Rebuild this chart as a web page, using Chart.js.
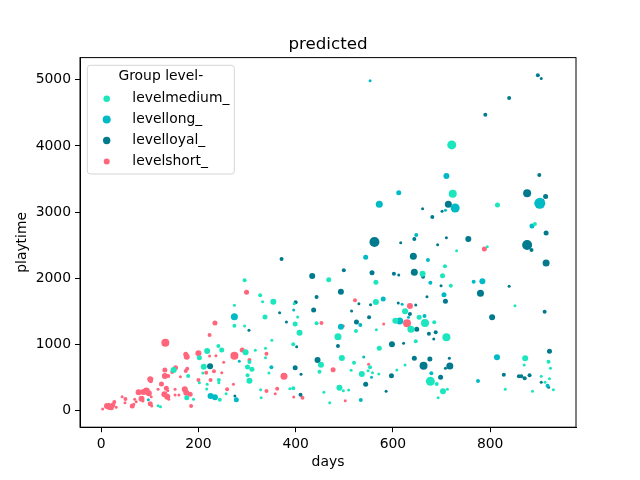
<!DOCTYPE html>
<html>
<head>
<meta charset="utf-8">
<script src="https://cdn.jsdelivr.net/npm/chart.js@4/dist/chart.umd.min.js"></script>
<style>html,body{margin:0;padding:0;background:#fff}</style>
</head>
<body>
<canvas id="chart" width="640" height="480"></canvas>
<script>
// [days, playtime, marker size]
const levelMedium = [
  [721,4016,4.5],[723,3279,4],[815,3108,2.5],[892,2820,2],[731,2416,1.5],[794,2477,1.5],[707,2180,2],
  [661,2069,3],[702,2038,2.5],[719,1887,2],[851,1584,1.5],[654,1408,2.5],[666,1322,4],[685,1333,2],
  [637,1227,3.5],[710,1106,4],[647,1045,2],[677,440,4.5],[690,399,2],[712,319,1.5],[703,289,3],
  [693,192,1.5],[831,319,1.5],[872,788,3],[870,687,1.5],[887,289,1.5],[920,737,2],[924,637,1.5],
  [905,516,1.5],[922,480,1.5],[913,425,1.5],[930,313,1.5],[468,1978,2.5],[565,1938,2.5],[295,1969,2],
  [327,1741,2],[332,1645,1.5],[354,1645,3],[397,1614,1.5],[565,1640,3],[274,1590,1.5],[337,1413,2.5],
  [399,1307,2.5],[404,1413,1.5],[408,1176,3],[443,1318,2],[295,1277,1.5],[351,1061,1.5],[395,1000,2],
  [297,879,3],[317,909,1.5],[338,940,1.5],[338,797,1.5],[305,732,2],[301,657,2.5],[310,621,2.5],
  [301,531,2],[305,449,3],[345,566,1.5],[328,313,1.5],[329,192,1.5],[388,328,1.5],[395,334,2],
  [452,691,3],[449,586,2],[458,274,1.5],[470,117,1.5],[490,344,3],[498,298,1.5],[509,309,1.5],
  [495,793,3],[487,1115,3.5],[524,1201,2],[520,722,2],[536,551,3],[514,607,1.5],[553,652,2],
  [549,601,1.5],[558,570,1.5],[571,551,1.5],[572,940,2.5],[566,1221,1.5],[608,611,1.5],[625,687,1.5],
  [605,1357,3],[625,1499,3],[274,1282,2],[241,974,2],[248,914,2.5],[218,899,3],[202,797,2.5],
  [211,661,3],[209,566,1.5],[242,460,2],[218,395,1.5],[217,324,1.5],[242,419,1.5],[257,253,1.5],
  [244,162,2],[202,419,1.5],[149,611,3],[179,520,2],[176,192,2.5],[190,168,1.5],[117,71,1.5],[122,57,1.5]
];
const levelLong = [
  [553,4988,1.5],[710,3546,3],[728,3062,4.5],[708,3027,1.5],[902,3133,5.5],[886,2790,2.5],[648,2654,2],
  [672,2276,2],[677,1932,2],[766,1947,2],[784,1953,3],[705,1750,2.5],[665,1428,2],[679,561,2],
  [775,445,2],[814,803,3],[918,374,2],[612,3294,2.5],[572,3118,3.5],[544,2316,2.5],[580,1685,2.5],
  [619,1605,1.5],[396,1519,1.5],[350,652,2],[493,1267,3],[533,1292,2],[540,808,1.5],[556,501,1.5],
  [534,157,2],[614,1353,3.5],[632,1408,1.5],[274,1418,3.5],[284,743,1.5],[225,218,3],[234,198,3],
  [278,162,2.5],[97,162,1.5]
];
const levelLoyal = [
  [898,5070,2],[905,5019,1.5],[839,4727,2],[790,4474,2],[901,3562,2],[714,3118,3.5],[701,3012,1.5],
  [661,3052,1.5],[681,2926,2],[876,3285,4],[914,3234,2.5],[908,3179,1.5],[915,2684,2.5],[876,2502,5],
  [885,2427,2],[915,2230,3.5],[644,2593,2],[710,2613,1.5],[692,2507,1.5],[755,2593,3],[642,2331,3.5],
  [644,2089,3.5],[662,2023,2],[699,1887,1.5],[839,1877,1.5],[780,1772,3.5],[670,1720,1.5],[708,1650,2.5],
  [647,1595,1.5],[912,1494,2],[804,1409,3],[635,1459,2],[649,1227,2.5],[674,1161,2],[688,1182,2],
  [684,1080,1.5],[644,788,2.5],[676,778,2.5],[716,788,1.5],[663,676,4],[717,672,3.5],[708,637,1.5],
  [698,501,2.5],[828,540,2],[859,516,2],[864,516,2],[871,486,2],[881,531,2],[922,894,2.5],[905,425,1.5],
  [920,350,1.5],[562,2548,5],[616,2538,1.5],[371,2291,2],[434,2034,3],[499,2119,2],[557,2084,2.5],
  [602,2069,2],[612,2049,1.5],[493,1796,3],[443,1716,2],[400,1636,2],[530,1614,1.5],[554,1599,1.5],
  [611,1625,1.5],[437,1519,2.5],[367,1478,1.5],[381,1337,1.5],[304,1212,1.5],[402,964,1.5],[399,646,2.5],
  [411,546,1.5],[410,238,2],[445,763,3],[487,974,2],[515,1504,1.5],[525,1337,2.5],[551,1408,2],
  [544,395,2.5],[586,289,1.5],[597,525,2.5],[598,1000,3],[622,1015,1.5],[224,667,3],[275,218,1.5]
];
const levelShort = [
  [788,2442,2.5],[635,1580,3],[629,1318,4],[299,1787,2.5],[522,1666,2],[453,1322,2],[498,1277,1.5],
  [581,1307,1.5],[550,698,1.5],[477,616,2.5],[340,858,2],[305,763,2],[376,516,3.5],[340,294,2],
  [362,328,2],[358,253,1.5],[396,203,1.5],[414,192,2],[502,147,1.5],[234,1322,2.5],[223,1141,2],
  [132,1024,4],[200,864,3],[174,849,2.5],[176,813,3],[223,823,1.5],[236,828,1.5],[274,828,4],
  [290,914,2.5],[252,728,1.5],[216,570,2],[232,591,2],[248,570,1.5],[225,460,2],[259,319,2],
  [272,395,1.5],[200,460,2],[101,470,3],[102,440,2],[131,611,2.5],[131,520,3],[138,520,2],[153,646,2.5],
  [146,581,2],[163,510,1.5],[174,596,2],[177,631,2],[124,399,2.5],[117,319,1.5],[134,334,2.5],
  [137,298,1.5],[130,244,3],[136,207,3],[139,168,1.5],[152,319,1.5],[152,233,1.5],[160,233,1.5],
  [172,319,3],[175,268,3],[183,244,2.5],[185,67,2],[77,274,3],[87,278,3],[93,294,3.5],[98,259,3],
  [83,177,3],[86,142,1.5],[101,101,2.5],[104,67,1.5],[103,207,1.5],[69,168,1.5],[72,132,1.5],[50,172,2],
  [49,117,1.5],[43,207,1.5],[64,67,2.5],[67,92,1.5],[27,127,2],[24,82,2.5],[17,51,3],[12,67,3],
  [21,41,2.5],[31,47,1.5],[3,21,1.5],[16,92,1.5]
];

const groupNames = ['levelmedium_', 'levellong_', 'levelloyal_', 'levelshort_'];
const groupColors = ['#1ce6be', '#00bac6', '#007a8c', '#ff667c'];
const legendSizes = [3.3, 4, 3.7, 3];
const xTicks = [0, 200, 400, 600, 800];
const yTicks = [0, 1000, 2000, 3000, 4000, 5000];

Chart.defaults.font.family = '"DejaVu Sans", sans-serif';
Chart.defaults.font.size = 13.9;
Chart.defaults.color = '#000';

const groups = [levelMedium, levelLong, levelLoyal, levelShort];
const datasets = groups.map((pts, i) => ({
  label: groupNames[i],
  data: pts.map(p => ({x: p[0], y: p[1]})),
  pointRadius: pts.map(p => p[2]),
  pointBackgroundColor: groupColors[i],
  pointBorderWidth: 0,
  pointHoverRadius: pts.map(p => p[2])
}));

const framePlugin = {
  id: 'frame',
  afterDraw(chart) {
    const {ctx, chartArea: a} = chart;
    ctx.save();
    ctx.strokeStyle = '#000';
    ctx.lineWidth = 1;
    ctx.strokeRect(a.left, a.top, a.right - a.left, a.bottom - a.top);

    ctx.fillStyle = '#000';
    ctx.font = '16.7px "DejaVu Sans"';
    ctx.textAlign = 'center';
    ctx.textBaseline = 'alphabetic';
    ctx.fillText('predicted', (a.left + a.right) / 2, a.top - 8.3);

    // legend box
    const bx = 87.3, by = 65.3, bw = 147, bh = 108.7, r = 3;
    ctx.beginPath();
    ctx.moveTo(bx + r, by);
    ctx.arcTo(bx + bw, by, bx + bw, by + bh, r);
    ctx.arcTo(bx + bw, by + bh, bx, by + bh, r);
    ctx.arcTo(bx, by + bh, bx, by, r);
    ctx.arcTo(bx, by, bx + bw, by, r);
    ctx.closePath();
    ctx.fillStyle = 'rgba(255,255,255,0.8)';
    ctx.fill();
    ctx.strokeStyle = '#d5d5d5';
    ctx.stroke();

    ctx.fillStyle = '#000';
    ctx.font = '13.9px "DejaVu Sans"';
    ctx.textBaseline = 'middle';
    ctx.textAlign = 'center';
    ctx.fillText('Group level-', bx + bw / 2, 76);
    ctx.textAlign = 'left';
    groupNames.forEach((name, i) => {
      const y = 98.7 + i * 20.9;
      ctx.beginPath();
      ctx.arc(106.7, y, legendSizes[i], 0, Math.PI * 2);
      ctx.fillStyle = groupColors[i];
      ctx.fill();
      ctx.fillStyle = '#000';
      ctx.fillText(name, 132.3, y);
    });
    ctx.restore();
  }
};

new Chart(document.getElementById('chart'), {
  type: 'scatter',
  data: {datasets},
  options: {
    responsive: false,
    animation: false,
    devicePixelRatio: 1,
    layout: {padding: {left: 0, top: 57.6, right: 64, bottom: 0}},
    plugins: {legend: {display: false}, tooltip: {enabled: false}, title: {display: false}},
    scales: {
      x: {
        type: 'linear',
        min: -43.5,
        max: 976.5,
        afterBuildTicks: s => { s.ticks = xTicks.map(v => ({value: v})); },
        afterFit: s => { s.height = 52.8; },
        grid: {display: true, drawOnChartArea: false, drawTicks: true, tickLength: 5, tickColor: '#000'},
        border: {display: true, color: '#000'},
        ticks: {padding: 4, maxRotation: 0, callback: v => String(v)},
        title: {display: true, text: 'days', padding: {top: 0, bottom: 9.7}}
      },
      y: {
        type: 'linear',
        min: -254,
        max: 5337,
        afterBuildTicks: s => { s.ticks = yTicks.map(v => ({value: v})); },
        afterFit: s => { s.width = 80; },
        grid: {display: true, drawOnChartArea: false, drawTicks: true, tickLength: 5, tickColor: '#000'},
        border: {display: true, color: '#000'},
        ticks: {padding: 4, callback: v => String(v)},
        title: {display: true, text: 'playtime', padding: {top: 13.7, bottom: 0}}
      }
    }
  },
  plugins: [framePlugin]
});
</script>
</body>
</html>
